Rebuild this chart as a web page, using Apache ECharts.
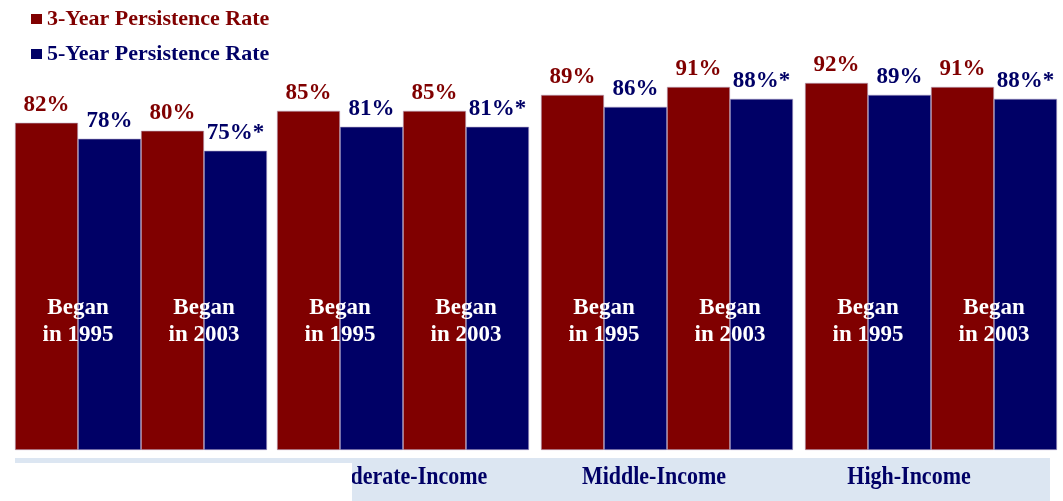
<!DOCTYPE html>
<html>
<head>
<meta charset="utf-8">
<script src="https://cdn.jsdelivr.net/npm/echarts@6/dist/echarts.min.js"></script>
<style>
html,body{margin:0;padding:0;background:#fff;}
#chart{width:1063px;height:501px;}
</style>
</head>
<body>
<div id="chart"></div>
<script>
// ---- data ----
var seriesNames = ['3-Year Persistence Rate', '5-Year Persistence Rate'];
var cohorts = ['Began\nin 1995', 'Began\nin 2003'];
var groups = ['Low-Income', 'Moderate-Income', 'Middle-Income', 'High-Income'];
// values per group: [1995, 2003]
var rate3 = [[82, 80], [85, 85], [89, 91], [92, 91]];
var rate5 = [[78, 75], [81, 81], [86, 88], [89, 88]];
var note5 = [['', '*'], ['', '*'], ['', '*'], ['', '*']];

// ---- style / layout ----
var RED = '#800000', BLUE = '#000066';
var FONT = '"Liberation Serif", "Times New Roman", serif';
var gridLefts = [15, 277, 541, 805];
var gridWidth = 252;
var labelCenters = [140, 403, 654, 909];

var grids = [], xAxes = [], yAxes = [], series = [];
groups.forEach(function (g, i) {
  grids.push({ left: gridLefts[i], width: gridWidth, top: 51, height: 399 });
  xAxes.push({
    type: 'category', gridIndex: i, data: cohorts, z: 5,
    axisLine: { show: false }, axisTick: { show: false },
    axisLabel: {
      inside: true, interval: 0, margin: 101,
      color: '#ffffff', fontFamily: FONT, fontWeight: 'bold',
      fontSize: 23, lineHeight: 27
    }
  });
  yAxes.push({ type: 'value', gridIndex: i, min: 0, max: 100, show: false });
  var barCommon = {
    type: 'bar', xAxisIndex: i, yAxisIndex: i,
    barGap: '0%', barCategoryGap: '0%'
  };
  series.push(Object.assign({}, barCommon, {
    name: seriesNames[0],
    data: rate3[i],
    itemStyle: { color: RED, borderColor: '#b8a4bc', borderWidth: 0.6 },
    label: {
      show: true, position: 'top', distance: 6,
      color: RED, fontFamily: FONT, fontWeight: 'bold', fontSize: 23,
      formatter: function (p) { return p.value + '%'; }
    }
  }));
  series.push(Object.assign({}, barCommon, {
    name: seriesNames[1],
    data: rate5[i],
    itemStyle: { color: BLUE, borderColor: '#a89cc4', borderWidth: 0.6 },
    label: {
      show: true, position: 'top', distance: 6,
      color: BLUE, fontFamily: FONT, fontWeight: 'bold', fontSize: 23,
      formatter: (function (gi) {
        return function (p) { return p.value + '%' + note5[gi][p.dataIndex]; };
      })(i)
    }
  }));
});

var graphics = [
  { type: 'rect', z: 1, shape: { x: 15, y: 458, width: 1035, height: 43 }, style: { fill: '#dce6f2' } },
  { type: 'rect', z: 3, shape: { x: 15, y: 463, width: 337, height: 38 }, style: { fill: '#ffffff' } }
];
groups.forEach(function (g, i) {
  graphics.push({
    type: 'text', z: 2, x: labelCenters[i], y: 477, scaleY: 1.15,
    style: {
      text: g, align: 'center', verticalAlign: 'middle',
      fill: BLUE, fontFamily: FONT, fontWeight: 'bold', fontSize: 22
    }
  });
});

var chart = echarts.init(document.getElementById('chart'));
chart.setOption({
  animation: false,
  backgroundColor: '#ffffff',
  legend: {
    orient: 'vertical', left: 26, top: 3,
    itemWidth: 11, itemHeight: 10, itemGap: 13,
    icon: 'rect',
    itemStyle: { borderWidth: 0 },
    textStyle: { fontFamily: FONT, fontWeight: 'bold', fontSize: 22 },
    data: [
      { name: seriesNames[0], textStyle: { color: RED } },
      { name: seriesNames[1], textStyle: { color: BLUE } }
    ]
  },
  grid: grids,
  xAxis: xAxes,
  yAxis: yAxes,
  series: series,
  graphic: graphics
});
</script>
</body>
</html>
